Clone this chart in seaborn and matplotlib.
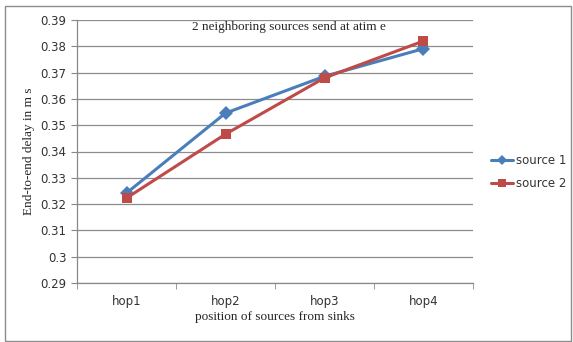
import matplotlib
matplotlib.use("Agg")
import matplotlib.pyplot as plt
import seaborn as sns
import pandas as pd
from matplotlib.patches import Rectangle
from matplotlib.lines import Line2D
from matplotlib.ticker import FixedLocator, MultipleLocator

categories = ["hop1", "hop2", "hop3", "hop4"]
source1 = [0.3242, 0.3546, 0.3686, 0.3791]
source2 = [0.3223, 0.3466, 0.3680, 0.3820]
series_names = ["source 1", "source 2"]

df = pd.DataFrame({
    "hop": categories * 2,
    "delay": source1 + source2,
    "series": [series_names[0]] * 4 + [series_names[1]] * 4,
})
df["x"] = df["hop"].map({c: i for i, c in enumerate(categories)})

sns.set_style("white")
fig = plt.figure(figsize=(5.73, 3.42), dpi=100)
ax = fig.add_axes([77 / 573, 1 - 283 / 342, 396 / 573, 263 / 342])

palette = {"source 1": "#4A7EBB", "source 2": "#BE4B48"}
sns.lineplot(data=df, x="x", y="delay", hue="series", style="series",
             markers={"source 1": "D", "source 2": "s"}, dashes=False,
             palette=palette, linewidth=2.2, markersize=7, markeredgewidth=0,
             ax=ax, legend=False)

ax.set_xlim(-0.5, 3.5)
ax.set_ylim(0.29, 0.39)
ax.yaxis.set_major_locator(MultipleLocator(0.01))
ticks = ax.get_yticks()
ax.set_yticks(ticks)
ax.set_yticklabels([("%.2f" % v).rstrip("0") for v in ticks])
ax.set_ylim(0.29, 0.39)
ax.set_xticks(range(len(categories)))
ax.set_xticklabels(categories)
ax.xaxis.set_minor_locator(FixedLocator([-0.5, 0.5, 1.5, 2.5, 3.5]))
ax.tick_params(axis="x", which="major", length=0, labelsize=8.5, pad=9, colors="#333333")
ax.tick_params(axis="x", which="minor", length=4, direction="out", color="#888888", bottom=True)
ax.tick_params(axis="y", which="major", length=4, direction="out", color="#888888",
               left=True, labelsize=8.5, colors="#333333")
ax.grid(axis="y", color="#8c8c8c", linewidth=0.9)
for s in ["top", "right"]:
    ax.spines[s].set_visible(False)
for s in ["left", "bottom"]:
    ax.spines[s].set_color("#888888")
    ax.spines[s].set_linewidth(0.9)

ax.set_xlabel("position of sources from sinks", family="Liberation Serif", fontsize=9.5, labelpad=2)
ax.set_ylabel("End-to-end delay in m s", family="Liberation Serif", fontsize=9.5, labelpad=4)
fig.text(289 / 573, 1 - 27 / 342, "2 neighboring sources send at atim e",
         ha="center", va="center", family="Liberation Serif", fontsize=9.5)

handles = [Line2D([], [], color=palette["source 1"], marker="D", markersize=5, lw=2.2, markeredgewidth=0),
           Line2D([], [], color=palette["source 2"], marker="s", markersize=6, lw=2.2, markeredgewidth=0)]
fig.legend(handles, series_names, loc="center left", bbox_to_anchor=(491 / 573, 1 - 172 / 342),
           frameon=False, fontsize=8.5, handlelength=1.9, handletextpad=0.2, labelspacing=0.9,
           borderpad=0, borderaxespad=0, labelcolor="#333333")

fig.patches.append(Rectangle((5 / 573, 1 / 342), 566 / 573, 335 / 342, transform=fig.transFigure,
                             fill=False, edgecolor="#8c8c8c", linewidth=1))

fig.savefig("out.png", dpi=100)
